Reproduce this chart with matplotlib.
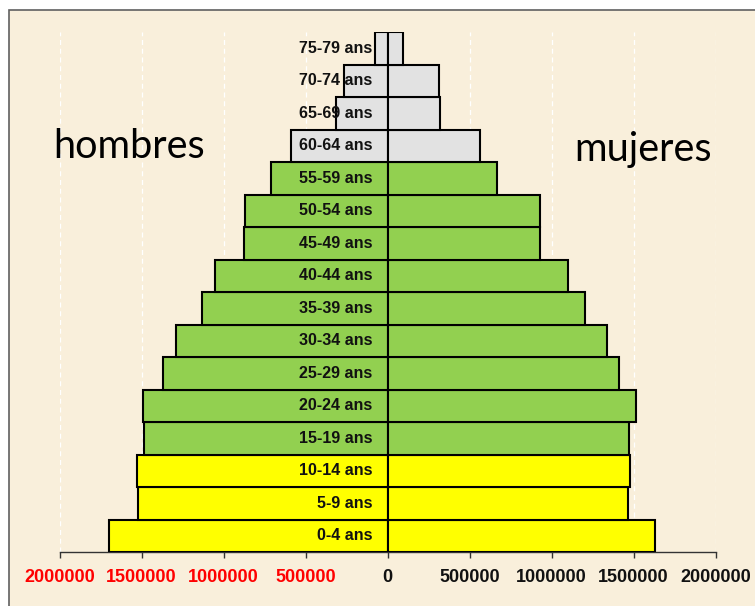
import matplotlib.pyplot as plt
from matplotlib.patches import Rectangle
import numpy as np

# Age groups, bottom to top
ages = ['0-4 ans', '5-9 ans', '10-14 ans', '15-19 ans', '20-24 ans', '25-29 ans',
        '30-34 ans', '35-39 ans', '40-44 ans', '45-49 ans', '50-54 ans', '55-59 ans',
        '60-64 ans', '65-69 ans', '70-74 ans', '75-79 ans']
hombres = [1700000, 1520000, 1526000, 1486000, 1492000, 1370000, 1288000, 1130000,
           1053000, 878000, 870000, 713000, 587000, 317000, 266000, 77000]
mujeres = [1630000, 1465000, 1477000, 1470000, 1518000, 1413000, 1340000, 1203000,
           1102000, 927000, 929000, 669000, 567000, 323000, 317000, 93000]
ticks = [-2000000, -1500000, -1000000, -500000, 0, 500000, 1000000, 1500000, 2000000]

parchment = '#f9efdb'


def bar_color(i):
    # 0-14 yellow, 15-59 green, 60+ gray
    if i < 3:
        return '#ffff00'
    if i < 12:
        return '#92d050'
    return '#e2e2e2'


colors = [bar_color(i) for i in range(len(ages))]

fig = plt.figure(figsize=(7.55, 6.06), dpi=100, facecolor='white')
# parchment panel with grey border on top/left
fig.add_artist(Rectangle((9 / 755, -0.05), 1.1, 1 - 10 / 606 + 0.05,
                         transform=fig.transFigure, facecolor=parchment,
                         edgecolor='#606060', linewidth=1.2, zorder=0))

ax = fig.add_axes([59.5 / 755, 1 - 552 / 606, 656 / 755, 520 / 606])
ax.set_facecolor('none')

y = np.arange(len(ages))
ax.barh(y, [-v for v in hombres], height=1.0, color=colors, edgecolor='black', linewidth=1.5, zorder=3)
ax.barh(y, mujeres, height=1.0, color=colors, edgecolor='black', linewidth=1.5, zorder=3)

for yi, lab in zip(y, ages):
    ax.text(-92000, yi, lab, ha='right', va='center', fontsize=11.5, fontweight='bold',
            family='Liberation Sans', color='#111111', zorder=4)

ax.set_xlim(-2000000, 2000000)
ax.set_ylim(-0.5, len(ages) - 0.5)
ax.set_yticks([])
ax.set_xticks(ticks)
ax.set_xticklabels([str(abs(t)) for t in ticks], fontsize=13, fontweight='bold', family='Liberation Sans')
for lbl, t in zip(ax.get_xticklabels(), ticks):
    lbl.set_color('red' if t < 0 else '#111111')
ax.tick_params(axis='x', length=4, width=1, color='#333333', pad=8)

for s in ['left', 'top', 'right']:
    ax.spines[s].set_visible(False)
ax.spines['bottom'].set_color('#333333')
ax.spines['bottom'].set_linewidth(1)

ax.grid(axis='x', color='white', linestyle=(0, (4, 3)), linewidth=0.9, alpha=1.0, zorder=1)
ax.set_axisbelow(True)

fig.text(53 / 755, 1 - 147 / 606, 'hombres', fontsize=28.5, family='Lato', ha='left', va='center')
fig.text(574 / 755, 1 - 150 / 606, 'mujeres', fontsize=28.5, family='Lato', ha='left', va='center')

fig.savefig('out.png', dpi=100, facecolor='white')
